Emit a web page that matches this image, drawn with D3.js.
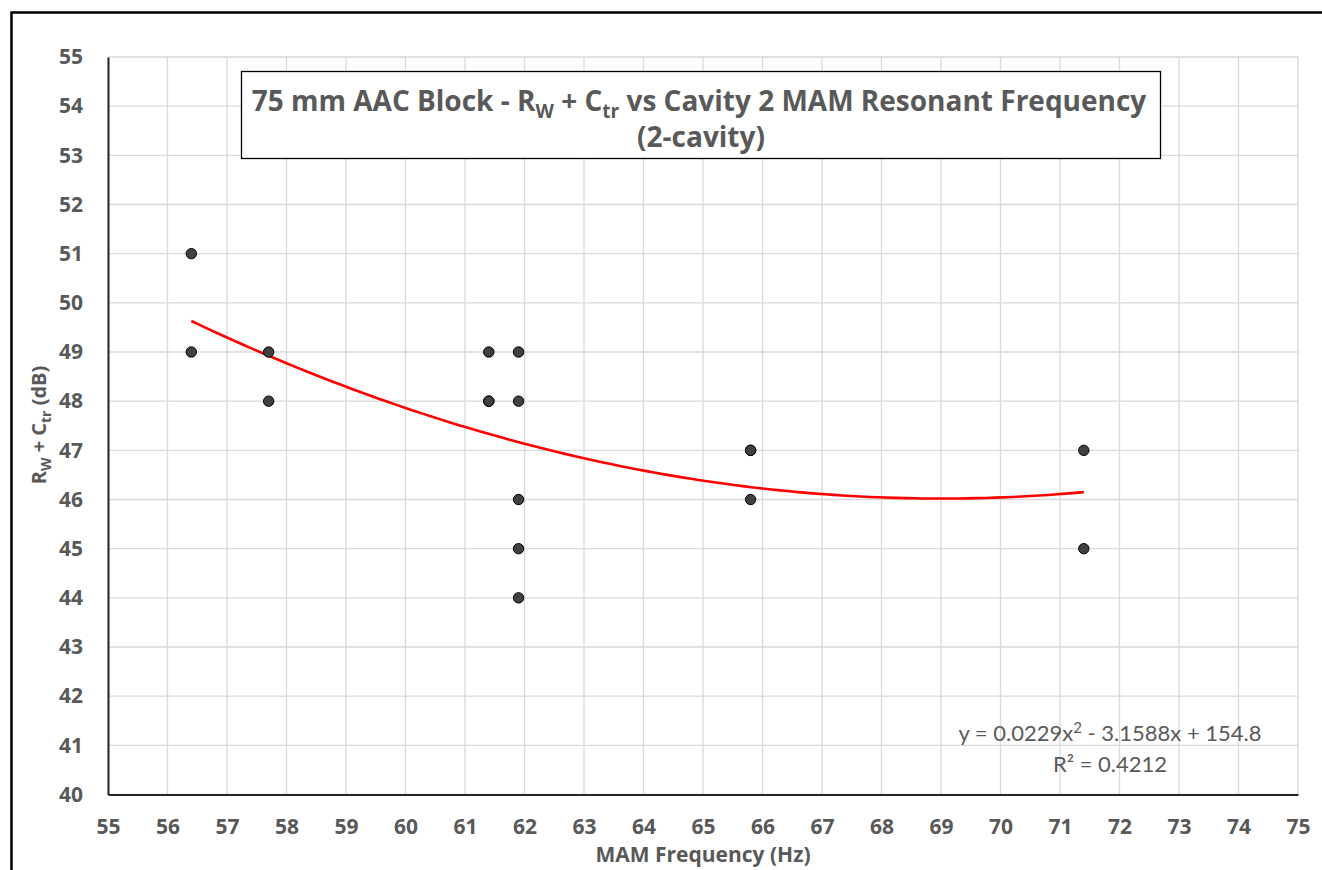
<!DOCTYPE html>
<html>
<head>
<meta charset="utf-8">
<script src="https://cdn.jsdelivr.net/npm/d3@7"></script>
<style>
  body { margin: 0; background: #fff; }
  text { font-family: "Open Sans", Lato, sans-serif; }
</style>
</head>
<body>
<div id="container"></div>
<script>
// data (some points sit on top of each other)
let freqs = [56.4, 56.4, 57.7, 57.7, 61.4, 61.4, 61.4, 61.9, 61.9, 61.9, 61.9, 61.9, 65.8, 65.8, 65.8, 71.4, 71.4];
let ratings = [51, 49, 49, 48, 49, 48, 48, 49, 48, 46, 45, 44, 47, 47, 46, 47, 45];
let xTicks = d3.range(55, 76, 1);
let yTicks = d3.range(40, 56, 1);
let eqText = ["y = 0.0229x", "2", " - 3.1588x + 154.8"];
let r2Text = "R² = 0.4212";

let w = 1322;
let h = 870;
let padLeft = 108, padRight = 1298, padTop = 57, padBottom = 794.5;
let grey = "#595959";

let svg = d3.select("#container")
  .append("svg")
    .attr("width", w)
    .attr("height", h);

// outer frame of the chart
svg.append("path")
  .attr("d", "M11.5," + h + " L11.5,12.5 L" + w + ",12.5")
  .attr("fill", "none")
  .attr("stroke", "#000")
  .attr("stroke-width", 2.5);

let xScale = d3.scaleLinear().domain([55, 75]).range([padLeft, padRight]);
let yScale = d3.scaleLinear().domain([40, 55]).range([padBottom, padTop]);

// gridlines
let grid = svg.append("g");
grid.selectAll(".vg").data(xTicks).enter().append("line")
  .attr("x1", d => xScale(d)).attr("x2", d => xScale(d))
  .attr("y1", padTop).attr("y2", padBottom)
  .attr("stroke", "#d9d9d9").attr("stroke-width", 1.3);
grid.selectAll(".hg").data(yTicks).enter().append("line")
  .attr("x1", padLeft).attr("x2", padRight)
  .attr("y1", d => yScale(d)).attr("y2", d => yScale(d))
  .attr("stroke", "#d9d9d9").attr("stroke-width", 1.3);

// axes
let xAxis = d3.axisBottom(xScale).tickValues(xTicks).tickSize(0).tickPadding(25);
let xg = svg.append("g").attr("transform", "translate(0," + padBottom + ")").call(xAxis);
xg.attr("font-family", null).attr("font-size", null);
xg.select(".domain").attr("stroke", "#262626").attr("stroke-width", 2);
xg.selectAll("text").attr("fill", grey).style("font-size", "21px").style("font-weight", "700");

let yAxis = d3.axisLeft(yScale).tickValues(yTicks).tickSize(0).tickPadding(25);
let yg = svg.append("g").attr("transform", "translate(" + padLeft + ",0)").call(yAxis);
yg.attr("font-family", null).attr("font-size", null);
yg.select(".domain").attr("stroke", "#262626").attr("stroke-width", 2);
yg.selectAll("text").attr("fill", grey).style("font-size", "21px").style("font-weight", "700");

// axis titles
svg.append("text")
  .attr("x", 703).attr("y", 862)
  .attr("text-anchor", "middle")
  .attr("fill", grey).style("font-size", "21px").style("font-weight", "700")
  .text("MAM Frequency (Hz)");

let yt = svg.append("text")
  .attr("transform", "translate(46,425) rotate(-90)")
  .attr("text-anchor", "middle")
  .attr("fill", grey).style("font-size", "20px").style("font-weight", "700");
yt.append("tspan").text("R");
yt.append("tspan").style("font-size", "14px").attr("dy", 5).text("W");
yt.append("tspan").attr("dy", -5).text(" + C");
yt.append("tspan").style("font-size", "14px").attr("dy", 5).text("tr");
yt.append("tspan").attr("dy", -5).text(" (dB)");

// quadratic least squares trendline from the points
function quadFit(xs, ys) {
  let s = [0, 0, 0, 0, 0], t = [0, 0, 0];
  xs.forEach((x, i) => {
    for (let k = 0; k < 5; k++) s[k] += Math.pow(x, k);
    for (let k = 0; k < 3; k++) t[k] += Math.pow(x, k) * ys[i];
  });
  let A = [[s[0], s[1], s[2], t[0]], [s[1], s[2], s[3], t[1]], [s[2], s[3], s[4], t[2]]];
  for (let c = 0; c < 3; c++) {
    for (let r = c + 1; r < 3; r++) {
      let f = A[r][c] / A[c][c];
      for (let k = c; k < 4; k++) A[r][k] -= f * A[c][k];
    }
  }
  let sol = [0, 0, 0];
  for (let r = 2; r >= 0; r--) {
    let v = A[r][3];
    for (let k = r + 1; k < 3; k++) v -= A[r][k] * sol[k];
    sol[r] = v / A[r][r];
  }
  return sol;
}

let coef = quadFit(freqs, ratings);
let xMin = d3.min(freqs), xMax = d3.max(freqs);
let trend = d3.range(0, 101).map(i => {
  let x = xMin + (xMax - xMin) * i / 100;
  return [x, coef[0] + coef[1] * x + coef[2] * x * x];
});
svg.append("path")
  .datum(trend)
  .attr("d", d3.line().x(d => xScale(d[0])).y(d => yScale(d[1])))
  .attr("fill", "none")
  .attr("stroke", "#ff0000")
  .attr("stroke-width", 2.6);

// points
svg.selectAll(".pt").data(freqs).enter().append("circle")
  .attr("cx", d => xScale(d))
  .attr("cy", (d, i) => yScale(ratings[i]))
  .attr("r", 5.2)
  .attr("fill", "#404040")
  .attr("stroke", "#000")
  .attr("stroke-width", 1);

// trendline label
let eq = svg.append("text")
  .attr("x", 1110).attr("y", 741)
  .attr("text-anchor", "middle")
  .attr("fill", grey).style("font-size", "22px").style("font-family", "Lato, sans-serif");
eq.append("tspan").text(eqText[0]);
eq.append("tspan").attr("dy", -8).style("font-size", "15px").text(eqText[1]);
eq.append("tspan").attr("dy", 8).text(eqText[2]);
svg.append("text")
  .attr("x", 1110).attr("y", 772)
  .attr("text-anchor", "middle")
  .attr("fill", grey).style("font-size", "22px").style("font-family", "Lato, sans-serif")
  .text(r2Text);

// title box
svg.append("rect")
  .attr("x", 241.5).attr("y", 71.5)
  .attr("width", 919).attr("height", 87)
  .attr("fill", "#fff")
  .attr("stroke", "#000").attr("stroke-width", 1.3);

let t1 = svg.append("text")
  .attr("x", 699).attr("y", 111)
  .attr("text-anchor", "middle")
  .attr("fill", grey).style("font-size", "28px").style("font-weight", "700");
t1.append("tspan").text("75 mm AAC Block - R");
t1.append("tspan").style("font-size", "19px").attr("dy", 7).text("W");
t1.append("tspan").attr("dy", -7).text(" + C");
t1.append("tspan").style("font-size", "19px").attr("dy", 7).text("tr");
t1.append("tspan").attr("dy", -7).text(" vs Cavity 2 MAM Resonant Frequency");

svg.append("text")
  .attr("x", 701).attr("y", 147)
  .attr("text-anchor", "middle")
  .attr("fill", grey).style("font-size", "28px").style("font-weight", "700")
  .text("(2-cavity)");
</script>
</body>
</html>
